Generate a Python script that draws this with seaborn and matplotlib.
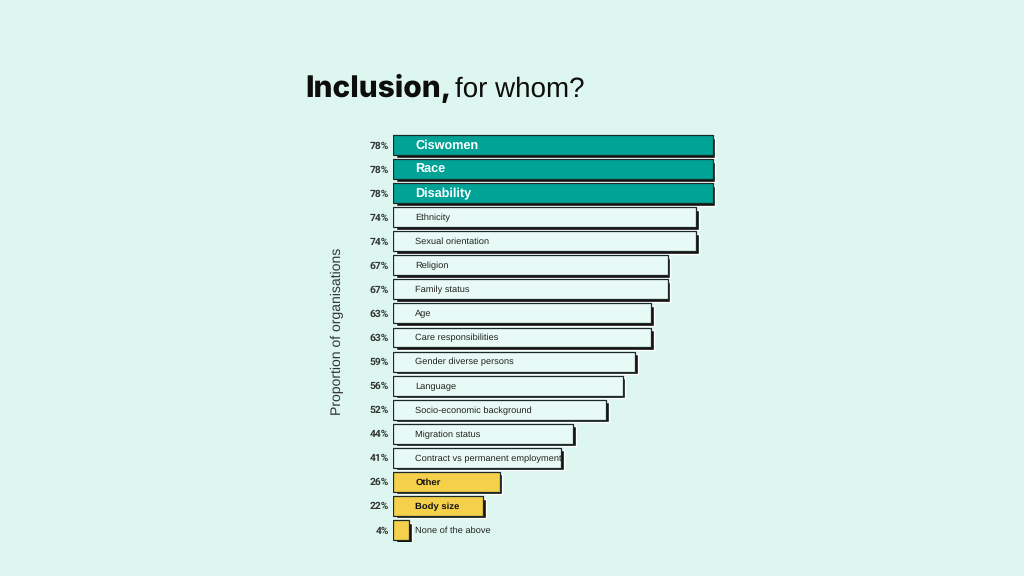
import pandas as pd
import seaborn as sns
import matplotlib.pyplot as plt
import matplotlib.transforms as mtransforms

#--> chart data
categories = ["Ciswomen", "Race", "Disability", "Ethnicity", "Sexual orientation",
              "Religion", "Family status", "Age", "Care responsibilities",
              "Gender diverse persons", "Language", "Socio-economic background",
              "Migration status", "Contract vs permanent employment", "Other",
              "Body size", "None of the above"]
values = [78, 78, 78, 74, 74, 67, 67, 63, 63, 59, 56, 52, 44, 41, 26, 22, 4]
groups = ["top"] * 3 + ["mid"] * 11 + ["low"] * 3

BG = "#DDF7F0"
palette = {"top": "#00A396", "mid": "#E8FAF5", "low": "#F5D04B"}

df = pd.DataFrame({"category": categories, "value": values, "group": groups})

sns.set_theme(style="white")
plt.rcParams['font.family'] = ['Liberation Sans', 'DejaVu Sans']
plt.rcParams['text.hinting'] = 'no_hinting'

fig = plt.figure(figsize=(10.24, 5.76), dpi=100, facecolor=BG)
ax = fig.add_axes([393 / 1024, 1 - 542 / 576, 410 / 1024, 409 / 576])
ax.set_facecolor(BG)

# shadow bars first, shifted right/down a little
sns.barplot(data=df, x="value", y="category", color="#111111", width=0.83,
            orient="h", ax=ax, saturation=1)
shadow = mtransforms.offset_copy(ax.transData, fig=fig, x=2.6, y=-2.6, units="dots")
for p in ax.patches:
    p.set_transform(shadow)

sns.barplot(data=df, x="value", y="category", hue="group", palette=palette,
            dodge=False, width=0.83, orient="h", ax=ax, saturation=1,
            edgecolor="#1a2a28", linewidth=0.9, legend=False)

ax.set_xlim(0, 100)
ax.set_ylim(16.5, -0.5)
ax.set_xticks([])
ax.set_yticks([])
ax.set_xlabel("")
ax.set_ylabel("")
for s in ax.spines.values():
    s.set_visible(False)

pct_font = ["Roboto", "Liberation Sans", "DejaVu Sans"]
for i, (cat, val, grp) in enumerate(zip(categories, values, groups)):
    ax.text(-1.0, i + 0.03, f"{val}%", ha="right", va="center", fontsize=7.4,
            color="#333333", fontweight="bold", family=pct_font)
    if grp == "top":
        ax.text(5.4, i + 0.03, cat, ha="left", va="center", fontsize=9.1,
                color="white", fontweight="bold")
    elif grp == "low" and cat != "None of the above":
        ax.text(5.4, i + 0.03, cat, ha="left", va="center", fontsize=6.8,
                color="#111111", fontweight="bold")
    else:
        ax.text(5.4, i + 0.03, cat, ha="left", va="center", fontsize=6.7,
                color="#222222")

fig.text(337 / 1024, 1 - 331 / 576, "Proportion of organisations", rotation=90,
         ha="center", va="center", fontsize=10.1, color="#333333")

# title: heavy word followed by regular text
t1 = fig.text(305 / 1024, 1 - 89 / 576, "Inclusion,", fontsize=21.5, fontweight="heavy",
              family=["Inter", "Liberation Sans", "DejaVu Sans"], color="#0d0d0d",
              ha="left", va="center")
fig.canvas.draw()
bb = t1.get_window_extent()
fig.text((bb.x1 + 4) / 1024, 1 - 89 / 576, "for whom?", fontsize=20,
         family=["Liberation Sans", "DejaVu Sans"], color="#0d0d0d",
         ha="left", va="center")

fig.savefig("out.png", dpi=100, facecolor=BG)
